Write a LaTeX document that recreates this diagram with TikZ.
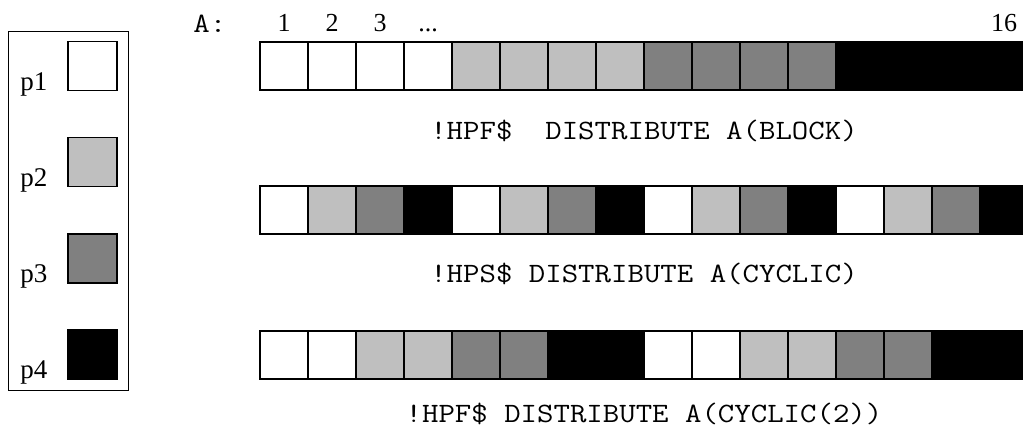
\documentclass[tikz,border=0pt]{standalone}
\usepackage{fontspec}
\setmainfont{Liberation Serif}
\setmonofont{Latin Modern Mono}[FakeStretch=1.14]
\usetikzlibrary{positioning}
\colorlet{pc0}{white}
\colorlet{pc1}{black!25}
\colorlet{pc2}{black!50}
\colorlet{pc3}{black}

\begin{document}
\begin{tikzpicture}[x=0.5pt, y=-0.5pt,
  cell/.style={draw, line width=0.8pt, minimum size=24pt, inner sep=0pt, outer sep=0pt},
  key/.style={draw, line width=0.7pt, minimum size=24.5pt, inner sep=0pt},
  lbl/.style={font=\fontsize{13.5}{15}\selectfont, inner sep=0pt, anchor=base west},
  num/.style={font=\fontsize{13}{15}\selectfont, inner sep=0pt},
  hpf/.style={font=\ttfamily\fontsize{14}{16}\selectfont, inner sep=0pt, anchor=base}]
\clip (0,0) rectangle (1023,430);
% legend
\draw[line width=0.5pt] (8,31) rectangle (128,390);
\foreach \p in {1,...,4} {
  \pgfmathtruncatemacro\k{\p-1}
  \node[key, fill=pc\k] (k\p) at (92.5,66+96.2*\k) {};
  \node[lbl] (p\p) at (20,90+96.2*\k) {p\p};
}
% the three rows
\foreach \i in {1,...,16} {
  \pgfmathtruncatemacro\k{int((\i-1)/4)}
  \node[cell, fill=pc\k] (blk-\i) at (236+48*\i,66) {};
}
\foreach \i in {1,...,16} {
  \pgfmathtruncatemacro\k{mod(\i-1,4)}
  \node[cell, fill=pc\k] (cyc-\i) at (236+48*\i,210) {};
}
\foreach \i in {1,...,16} {
  \pgfmathtruncatemacro\k{mod(int((\i-1)/2),4)}
  \node[cell, fill=pc\k] (cyctwo-\i) at (236+48*\i,355) {};
}
% indices
\node[hpf, anchor=base west] (arr) at (193,32) {A:};
\node[num, above=5pt of blk-1] (i1) {1};
\node[num, above=5pt of blk-2] (i2) {2};
\node[num, above=5pt of blk-3] (i3) {3};
\node[num, above=5pt of blk-4] (i4) {...};
\node[num, above=5pt of blk-16] (i16) {16};
% directives
\node[hpf] (dblk) at (644,139) {!HPF\$\ \ DISTRIBUTE A(BLOCK)};
\node[hpf] (dcyc) at (644,282) {!HPS\$ DISTRIBUTE A(CYCLIC)};
\node[hpf] (dcyctwo) at (644,422) {!HPF\$ DISTRIBUTE A(CYCLIC(2))};
\end{tikzpicture}
\end{document}
